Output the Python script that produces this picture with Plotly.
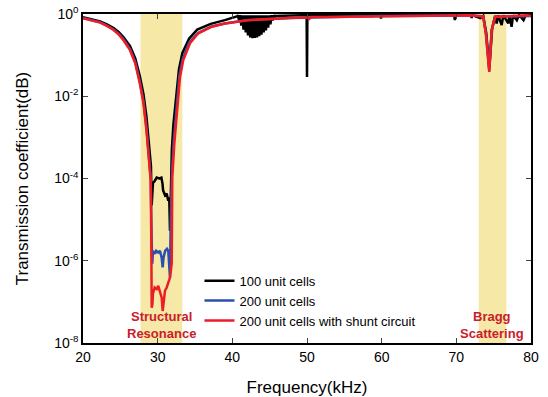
import plotly.graph_objects as go

# ---------------- data ----------------
# 100 unit cells (black)
black_f = [20.0, 21.0, 22.3, 23.2, 24.1, 24.8, 25.4, 26.3, 27.0, 27.6, 28.1, 28.5, 28.85,
           29.1, 29.2, 29.37, 29.6, 29.87, 30.2, 30.5, 30.65, 30.73, 30.98, 31.2, 31.42,
           31.55, 31.65, 31.75, 31.9, 32.1, 32.45, 32.85, 33.3, 34.2, 35.3, 37.1, 39.0, 40.5,
           40.6, 40.75, 40.9, 41.05, 41.2, 41.35, 41.5, 41.65, 41.8, 41.95, 42.1, 42.25,
           42.4, 42.55, 42.7, 42.85, 43.0, 43.15, 43.3, 43.45, 43.6, 43.75, 43.9, 44.05,
           44.2, 44.35, 44.5, 44.65, 44.8, 44.95, 45.1, 45.25, 45.4, 45.55, 45.7,
           45.8, 48.0, 49.95, 50.0, 50.05, 53.0, 57.0, 58.5, 58.6, 58.7, 59.8, 59.9, 60.0,
           62.0, 66.0, 69.7, 69.8, 69.9, 72.0, 72.05, 72.1, 73.2, 73.6, 74.0, 74.41, 74.6,
           74.8, 75.2, 75.4, 75.6, 76.07, 76.3, 76.96, 77.1, 77.4, 77.6, 78.1, 78.4, 79.0,
           79.3, 80.0]
black_t = [0.832, 0.759, 0.661, 0.562, 0.457, 0.363, 0.275, 0.166, 0.0832, 0.0316, 0.0112, 0.00316, 7.94e-4,
           2.0e-4, 2.2e-5, 7.8e-5, 8.7e-5, 1.05e-4, 1.0e-4, 1.05e-4, 7.4e-5, 5.1e-5, 3.9e-5, 4.3e-5, 2.9e-5,
           3.5e-5, 5.4e-6, 1.0e-4, 5.01e-4, 0.002, 0.01, 0.0447, 0.112, 0.251, 0.417, 0.575, 0.708, 0.891,
           0.871, 0.933, 0.708, 0.933, 0.525, 0.933, 0.417, 0.933, 0.355, 0.933, 0.302, 0.933,
           0.269, 0.933, 0.257, 0.933, 0.263, 0.933, 0.269, 0.933, 0.288, 0.933, 0.316, 0.933,
           0.355, 0.933, 0.398, 0.933, 0.468, 0.933, 0.562, 0.933, 0.692, 0.933, 0.851,
           0.9, 0.933, 0.94, 0.0295, 0.94, 0.95, 0.95, 0.95, 0.85, 0.95, 0.95, 0.78, 0.95,
           0.95, 0.95, 0.95, 0.708, 0.95, 0.94, 0.794, 0.94, 0.794, 0.9, 0.35, 0.05, 0.14,
           0.45, 0.9, 0.589, 0.93, 0.537, 0.93, 0.589, 0.93, 0.49, 0.93, 0.708, 0.95, 0.708,
           0.95, 0.93]

# 200 unit cells (blue)
blue_f = [20.0, 21.0, 22.3, 23.2, 24.1, 24.8, 25.4, 26.3, 27.0, 27.6, 28.1, 28.5, 28.85,
          29.07, 29.2, 29.28, 29.37, 29.65, 29.8, 30.08, 30.3, 30.53, 30.67, 30.79, 31.0,
          31.25, 31.42, 31.65, 31.75, 31.9, 32.15, 32.5, 32.9, 33.35, 34.2, 35.4, 37.2, 39.0,
          42.1, 47.7, 53.1, 59.8, 66.5, 71.8, 73.6, 73.97, 74.41, 74.57, 74.73, 75.2, 76.5,
          77.9, 79.5, 80.0]
blue_t = [0.8, 0.72, 0.63, 0.525, 0.42, 0.33, 0.245, 0.14, 0.068, 0.023, 0.0075, 0.0017, 3.7e-4,
          1.0e-4, 3.0e-6, 8.5e-7, 1.74e-6, 1.48e-6, 1.74e-6, 1.58e-6, 1.74e-6, 1.2e-6, 6.9e-7, 1.2e-6, 1.74e-6,
          1.95e-6, 1.74e-6, 3.9e-7, 1.0e-5, 1.2e-4, 8.0e-4, 5.0e-3, 0.031, 0.08, 0.2, 0.345, 0.495, 0.59,
          0.71, 0.8, 0.85, 0.89, 0.91, 0.93, 0.87, 0.33, 0.042, 0.13, 0.41, 0.86, 0.88,
          0.9, 0.93, 0.9]

# 200 unit cells with shunt circuit (red)
red_f = [20.0, 21.0, 22.3, 23.2, 24.1, 24.8, 25.4, 26.3, 27.0, 27.6, 28.1, 28.5, 28.85, 29.07,
         29.15, 29.2, 29.3, 29.37, 29.6, 29.87, 30.08, 30.31, 30.54, 30.67, 30.81, 30.98, 31.21,
         31.42, 31.65, 31.88, 31.92, 31.96, 32.23, 32.59, 32.99, 33.43, 34.33, 35.44, 37.24, 39.0,
         42.1, 47.7, 50.1, 50.3, 50.5, 53.1, 59.8, 66.5, 71.8, 73.6, 73.97, 74.41, 74.57, 74.73,
         75.2, 76.5, 77.9, 79.5, 80.0]
red_t = [0.794, 0.708, 0.617, 0.513, 0.407, 0.316, 0.234, 0.132, 0.0631, 0.0209, 0.00676, 0.00148, 3.24e-4, 8.9e-5,
         3.2e-6, 7.2e-8, 8.9e-8, 1.58e-7, 2.24e-7, 2.04e-7, 2.45e-7, 1.86e-7, 1.26e-7, 6.0e-8, 1.26e-7, 1.86e-7, 2.24e-7,
         2.95e-7, 3.9e-7, 8.5e-7, 1.0e-5, 1.07e-4, 7.08e-4, 4.57e-3, 0.0295, 0.0759, 0.195, 0.339, 0.490, 0.589,
         0.708, 0.794, 0.832, 0.76, 0.84, 0.851, 0.891, 0.912, 0.933, 0.871, 0.316, 0.0389, 0.126, 0.398,
         0.851, 0.871, 0.891, 0.933, 0.891]

series_names = ["100 unit cells", "200 unit cells", "200 unit cells with shunt circuit"]
x_ticks = [20, 30, 40, 50, 60, 70, 80]
y_ticks = [1, 1e-2, 1e-4, 1e-6, 1e-8]
y_ticktext = ["10<sup>0</sup>", "10<sup>-2</sup>", "10<sup>-4</sup>", "10<sup>-6</sup>", "10<sup>-8</sup>"]
bands = [(27.7, 33.3), (73.0, 76.7)]
band_labels = [(30.5, "<b>Structural</b><br><b>Resonance</b>"), (74.8, "<b>Bragg</b><br><b>Scattering</b>")]

# ---------------- figure ----------------
FONT = "Arial, 'Liberation Sans', sans-serif"
fig = go.Figure()
for f, t, name, col in [(black_f, black_t, series_names[0], "#000000"),
                        (blue_f, blue_t, series_names[1], "#2a4fb0"),
                        (red_f, red_t, series_names[2], "#ee1c24")]:
    fig.add_trace(go.Scatter(x=f, y=t, mode="lines", name=name,
                             line=dict(color=col, width=2.5)))

for x0, x1 in bands:
    fig.add_shape(type="rect", xref="x", yref="paper", x0=x0, x1=x1, y0=0, y1=1,
                  fillcolor="#f6e8a6", line=dict(width=0), layer="below")

for xc, txt in band_labels:
    fig.add_annotation(x=xc, y=0.055, xref="x", yref="paper", text=txt, showarrow=False,
                       xanchor="center", yanchor="middle",
                       font=dict(family=FONT, size=13, color="#c8202a"), align="center")

fig.update_layout(
    width=548, height=397,
    margin=dict(l=83, r=17, t=14, b=54),
    paper_bgcolor="white", plot_bgcolor="white",
    font=dict(family=FONT, color="black"),
    showlegend=True,
    legend=dict(x=0.26, y=0.235, xanchor="left", yanchor="top",
                bgcolor="rgba(0,0,0,0)", borderwidth=0,
                font=dict(family=FONT, size=13), tracegroupgap=0),
)
fig.update_xaxes(range=[20, 80], tickvals=x_ticks, ticks="inside", ticklen=5, tickwidth=1.2,
                 showline=True, linewidth=1.5, linecolor="black", mirror="ticks",
                 showgrid=False, zeroline=False, tickfont=dict(size=14), automargin=False,
                 title=dict(text="Frequency(kHz)", font=dict(size=17), standoff=18))
fig.update_yaxes(type="log", range=[-8, 0], tickvals=y_ticks, ticktext=y_ticktext,
                 ticks="inside", ticklen=5, tickwidth=1.2,
                 showline=True, linewidth=1.5, linecolor="black", mirror="ticks",
                 showgrid=False, zeroline=False, tickfont=dict(size=14), automargin=False,
                 title=dict(text="Transmission coefficient(dB)", font=dict(size=17), standoff=21))

# remove the browser's default body margin so the figure sits at the window origin
fig.write_html("out.html", config={"displayModeBar": False},
               post_script="document.body.style.margin='0';")
